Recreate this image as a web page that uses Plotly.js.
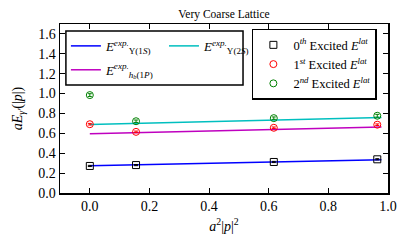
<!DOCTYPE html>
<html>
<head>
<meta charset="utf-8">
<script src="https://cdn.plot.ly/plotly-3.0.1.min.js"></script>
<style>html,body{margin:0;padding:0;background:#fff;}#chart{width:408px;height:246px;}</style>
</head>
<body>
<div id="chart"></div>
<script>
// Data
const momentum = [0, 0.155, 0.617, 0.964];          // a^2|p|^2
const excited0 = [0.272, 0.281, 0.312, 0.339];
const excited1 = [0.692, 0.615, 0.656, 0.687];
const excited2 = [0.985, 0.722, 0.753, 0.777];
const err0 = [0.006, 0.006, 0.006, 0.006];
const err1 = [0.008, 0.008, 0.008, 0.008];
const err2 = [0.014, 0.012, 0.012, 0.014];

const lineX = [0, 0.978];
const expUps1S = [0.274, 0.334];
const expHb1P = [0.597, 0.664];
const expUps2S = [0.690, 0.760];

const xTicks = [0, 0.2, 0.4, 0.6, 0.8, 1.0];
const xTickText = ['0.0', '0.2', '0.4', '0.6', '0.8', '1.0'];
const yTicks = [0, 0.2, 0.4, 0.6, 0.8, 1.0, 1.2, 1.4, 1.6];
const yTickText = ['0.0', '0.2', '0.4', '0.6', '0.8', '1.0', '1.2', '1.4', '1.6'];

const FONT = 'Liberation Serif';

const traces = [
  {x: lineX, y: expUps1S, mode: 'lines', line: {color: '#0000ff', width: 1.5},
   name: '<i>E</i><sup><i>exp.</i></sup><sub>Υ(1<i>S</i>)</sub>', legend: 'legend', legendgroup: 'a'},
  {x: lineX, y: expHb1P, mode: 'lines', line: {color: '#bf00bf', width: 1.5},
   name: '<i>E</i><sup><i>exp.</i></sup><sub><i>h<sub>b</sub></i>(1<i>P</i>)</sub>', legend: 'legend', legendgroup: 'b'},
  {x: lineX, y: expUps2S, mode: 'lines', line: {color: '#00bfbf', width: 1.5},
   name: '<i>E</i><sup><i>exp.</i></sup><sub>Υ(2<i>S</i>)</sub>', legend: 'legend3'},
  {x: momentum, y: excited0, mode: 'markers', legend: 'legend2',
   error_y: {type: 'data', array: err0, color: '#000', thickness: 1, width: 2},
   marker: {symbol: 'square-open', size: 7, color: '#000', line: {width: 1}},
   name: '0<sup><i>th</i></sup> Excited <i>E</i><sup><i>lat</i></sup>'},
  {x: momentum, y: excited1, mode: 'markers', legend: 'legend2',
   error_y: {type: 'data', array: err1, color: '#ff0000', thickness: 1, width: 2},
   marker: {symbol: 'circle-open', size: 7, color: '#ff0000', line: {width: 1}},
   name: '1<sup><i>st</i></sup> Excited <i>E</i><sup><i>lat</i></sup>'},
  {x: momentum, y: excited2, mode: 'markers', legend: 'legend2',
   error_y: {type: 'data', array: err2, color: '#008000', thickness: 1, width: 2},
   marker: {symbol: 'circle-open', size: 7, color: '#008000', line: {width: 1}},
   name: '2<sup><i>nd</i></sup> Excited <i>E</i><sup><i>lat</i></sup>'}
];

function axisBase() {
  return {
    showline: true, linecolor: '#000', linewidth: 1.5, mirror: 'ticks',
    ticks: 'inside', ticklen: 5, tickwidth: 1, tickcolor: '#000',
    showgrid: false, zeroline: false,
    tickfont: {family: FONT, size: 14, color: '#000'}
  };
}

const layout = {
  width: 408, height: 246,
  margin: {l: 60, r: 20, t: 24, b: 53},
  paper_bgcolor: '#fff', plot_bgcolor: '#fff',
  font: {family: FONT, size: 13, color: '#000'},
  title: {text: 'Very Coarse Lattice', font: {family: FONT, size: 11.5, color: '#000'},
          x: 0.549, xref: 'container', y: 0.945, yanchor: 'middle'},
  xaxis: Object.assign(axisBase(), {
    range: [-0.1, 1.0], tickvals: xTicks, ticktext: xTickText,
    title: {text: '<i>a</i><sup>2</sup>|<i>p</i>|<sup>2</sup>', font: {family: FONT, size: 14, color: '#000'}, standoff: 8}
  }),
  yaxis: Object.assign(axisBase(), {
    range: [0, 1.7], tickvals: yTicks, ticktext: yTickText,
    title: {text: '<i>aE</i><sub><i>γ′</i></sub>(|<i>p</i>|)', font: {family: FONT, size: 14, color: '#000'}, standoff: 12}
  }),
  showlegend: true,
  legend: {x: 0.018, y: 0.959, xanchor: 'left', yanchor: 'top', bgcolor: 'rgba(0,0,0,0)',
           borderwidth: 0, font: {family: FONT, size: 13, color: '#000'},
           traceorder: 'grouped', tracegroupgap: 4},
  legend3: {x: 0.317, y: 0.959, xanchor: 'left', yanchor: 'top', bgcolor: 'rgba(0,0,0,0)',
            borderwidth: 0, font: {family: FONT, size: 13, color: '#000'}},
  legend2: {x: 0.585, y: 0.972, xanchor: 'left', yanchor: 'top', bgcolor: '#fff',
            bordercolor: '#000', borderwidth: 1.5, font: {family: FONT, size: 12.5, color: '#000'}},
  shapes: [
    {type: 'rect', xref: 'paper', yref: 'paper', x0: 0.018, x1: 0.558, y0: 0.639, y1: 0.959,
     line: {color: '#000', width: 1.5}, fillcolor: 'rgba(0,0,0,0)', layer: 'above'}
  ]
};

Plotly.newPlot('chart', traces, layout, {staticPlot: true, displayModeBar: false});
</script>
</body>
</html>
